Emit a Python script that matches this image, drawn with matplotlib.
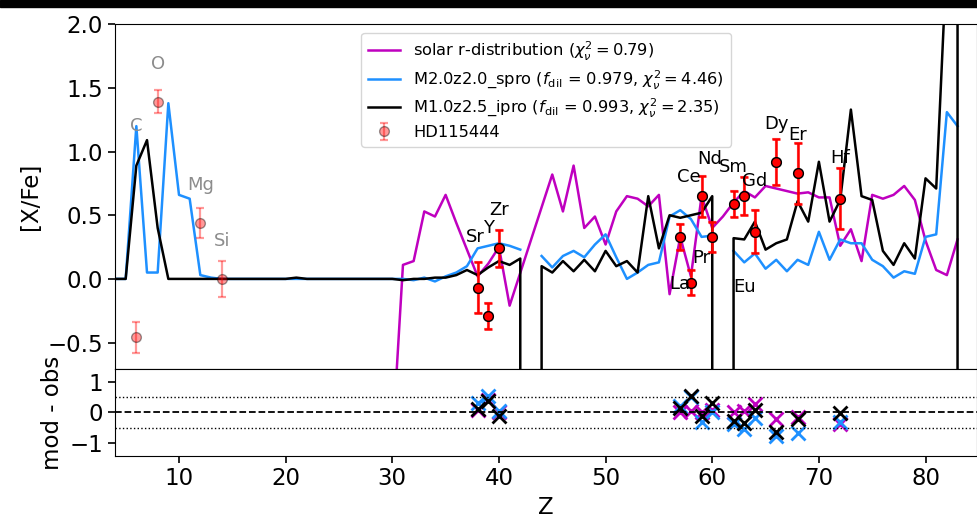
import numpy as np
import matplotlib.pyplot as plt
from matplotlib.patches import Rectangle

nan = np.nan

# model curves, Z = 4 .. 84
z_mod = np.arange(4, 85)
spro = [0.0, 0.0, 1.20, 0.05, 0.05, 1.38, 0.66, 0.63, 0.03, 0.01, 0.0,
        0.0, 0.0, 0.0, 0.0, 0.0, 0.0, 0.0, 0.0, 0.0, 0.0, 0.0, 0.0, 0.0, 0.0, 0.0, 0.0,
        0.0, -0.01, 0.01, -0.02, 0.02, 0.05, 0.10, 0.24, 0.26, 0.28, 0.26, 0.23, nan,
        0.18, 0.09, 0.18, 0.22, 0.17, 0.27, 0.35, 0.17, 0.0, 0.05, 0.11, 0.13,
        0.49, 0.54, 0.47, 0.33, 0.34, nan, 0.22, 0.13, 0.20, 0.08, 0.15, 0.06,
        0.15, 0.11, 0.37, 0.15, 0.31, 0.28, 0.28, 0.15, 0.10, 0.01, 0.06, 0.04,
        0.33, 0.35, 1.31, 1.20, nan]
ipro = [0.0, 0.0, 0.89, 1.09, 0.40, 0.0, 0.0, 0.0, 0.0, 0.0, 0.0,
        0.0, 0.0, 0.0, 0.0, 0.0, 0.0, 0.01, 0.0, 0.0, 0.0, 0.0, 0.0, 0.0, 0.0, 0.0, 0.0,
        -0.01, 0.0, 0.0, 0.01, 0.01, 0.03, 0.07, 0.03, 0.09, 0.14, 0.11, 0.16, -1e4,
        0.10, 0.05, 0.14, 0.06, 0.15, 0.06, 0.22, 0.10, 0.14, 0.05, 0.65, 0.24,
        0.50, 0.48, 0.50, 0.52, 0.65, -1e4, 0.32, 0.31, 0.45, 0.23, 0.28, 0.31,
        0.61, 0.45, 0.92, 0.45, 0.62, 1.33, 0.65, 0.62, 0.22, 0.11, 0.28, 0.16,
        0.79, 0.71, 2.55, 100.0, -1e5]

# solar r-process distribution
z_sol = [30, 31, 32, 33, 34, 35, 36, 37, 38, 39, 40, 41, 45, 46, 47, 48, 49, 50,
         51, 52, 53, 54, 55, 56, 57, 58, 59, 60, 61, 62, 63, 64, 65, 66, 67, 68,
         69, 70, 71, 72, 73, 74, 75, 76, 77, 78, 79, 80, 81, 82, 83]
solar = [-1.3, 0.11, 0.14, 0.53, 0.49, 0.66, 0.44, 0.23, 0.02, 0.12, 0.25, -0.21,
         0.82, 0.53, 0.89, 0.40, 0.49, 0.27, 0.53, 0.65, 0.63, 0.57, 0.66, -0.12,
         0.33, 0.02, 0.65, 0.40, 0.49, 0.60, 0.69, 0.64, 0.73, 0.71, 0.69, 0.67,
         0.68, 0.64, 0.64, 0.26, 0.39, 0.14, 0.66, 0.63, 0.66, 0.73, 0.62, 0.30,
         0.07, 0.03, 0.31]

# HD115444 observations
z_light = [6, 8, 12, 14]
obs_light = [-0.46, 1.39, 0.44, 0.0]
err_light = [0.12, 0.09, 0.12, 0.14]
z_heavy = [38, 39, 40, 57, 58, 59, 60, 62, 63, 64, 66, 68, 72]
obs_heavy = [-0.07, -0.29, 0.24, 0.33, -0.03, 0.65, 0.33, 0.59, 0.65, 0.37, 0.92, 0.83, 0.63]
err_heavy = [0.20, 0.10, 0.145, 0.10, 0.10, 0.16, 0.115, 0.10, 0.15, 0.17, 0.18, 0.24, 0.24]

# element labels and where they sit
light_names = ['C', 'O', 'Mg', 'Si']
light_lab = [(6, 1.20), (8, 1.69), (12, 0.74), (14, 0.30)]
heavy_names = ['Sr', 'Y', 'Zr', 'La', 'Ce', 'Pr', 'Nd', 'Sm', 'Eu', 'Gd', 'Dy', 'Er', 'Hf']
heavy_lab = [(37.8, 0.33), (39, 0.40), (40, 0.54), (57, -0.04), (57.8, 0.80),
             (59, 0.165), (59.8, 0.94), (62, 0.88), (63, -0.06), (64, 0.77),
             (66, 1.22), (68, 1.13), (72, 0.95)]

c_sol = 'm'
c_spro = 'dodgerblue'
c_ipro = 'k'

fig = plt.figure(figsize=(9.78, 5.29), dpi=100)
fig.patches.append(Rectangle((0, 1 - 7 / 529), 1, 7 / 529, transform=fig.transFigure,
                             color='k', zorder=10))
ax1 = fig.add_axes([0.1176, 0.3019, 0.8811, 0.6522])
ax2 = fig.add_axes([0.1176, 0.1386, 0.8811, 0.1633], sharex=ax1)

ax1.plot(z_sol, solar, color=c_sol, lw=1.8,
         label=r'solar r-distribution ($\chi^2_\nu = 0.79$)')
ax1.plot(z_mod, spro, color=c_spro, lw=1.8,
         label=r'M2.0z2.0_spro ($f_{\rm dil}$ = 0.979, $\chi^2_\nu = 4.46$)')
ax1.plot(z_mod, ipro, color=c_ipro, lw=1.8,
         label=r'M1.0z2.5_ipro ($f_{\rm dil}$ = 0.993, $\chi^2_\nu = 2.35$)')

ax1.errorbar(z_light + z_heavy, obs_light + obs_heavy, yerr=err_light + err_heavy,
             fmt='o', color='red', mec='k', ms=7, capsize=3, elinewidth=1.6,
             capthick=1.6, alpha=0.4, label='HD115444', zorder=4)
ax1.errorbar(z_heavy, obs_heavy, yerr=err_heavy, fmt='o', color='red', mec='k',
             ms=7, capsize=3, elinewidth=1.8, capthick=1.8, zorder=5)

for name, (x, y) in zip(light_names, light_lab):
    ax1.text(x, y, name, color='0.55', fontsize=13, ha='center', va='center')
for name, (x, y) in zip(heavy_names, heavy_lab):
    ax1.text(x, y, name, color='k', fontsize=13, ha='center', va='center', zorder=6)

ax1.set_xlim(4, 84.8)
ax1.set_ylim(-0.71, 2.0)
ax1.set_yticks([-0.5, 0.0, 0.5, 1.0, 1.5, 2.0])
ax1.set_ylabel('[X/Fe]', fontsize=16.5)
ax1.tick_params(axis='x', which='both', bottom=False, labelbottom=False)
ax1.tick_params(axis='y', labelsize=16.5, length=5, width=1.2)
ax1.legend(loc='upper left', bbox_to_anchor=(0.286, 0.975), borderaxespad=0,
           fontsize=11.7, handlelength=2.0, labelspacing=0.35)

# residuals model - observation
zh = np.array(z_heavy)
oh = np.array(obs_heavy)
for zz, vals, col in [(z_sol, solar, c_sol), (z_mod, spro, c_spro), (z_mod, ipro, c_ipro)]:
    lookup = dict(zip(zz, vals))
    res = np.array([lookup[z] for z in z_heavy]) - oh
    ax2.plot(zh, res, 'x', color=col, ms=10, mew=2)

ax2.axhline(0, color='k', ls='--', lw=1.3)
ax2.axhline(0.5, color='k', ls=':', lw=1)
ax2.axhline(-0.5, color='k', ls=':', lw=1)
ax2.set_ylim(-1.4, 1.4)
ax2.set_yticks([-1, 0, 1])
ax2.set_xticks([10, 20, 30, 40, 50, 60, 70, 80])
ax2.set_xlabel('Z', fontsize=16.5)
ax2.set_ylabel('mod - obs', fontsize=16.5)
ax2.tick_params(labelsize=16.5, length=5, width=1.2)

fig.savefig('out.png', dpi=100)
